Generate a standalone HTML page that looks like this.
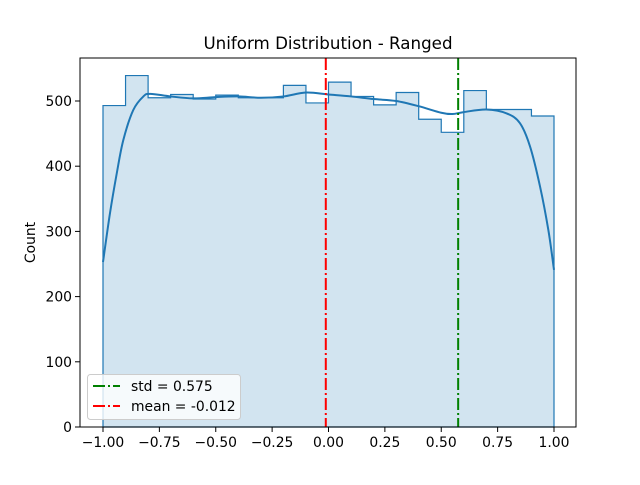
<!DOCTYPE html>
<html><head><meta charset="utf-8"><style>
body{margin:0;background:#fff;}
svg text{font-family:"DejaVu Sans","Liberation Sans",sans-serif;}
</style></head><body>
<svg id="chart" width="640" height="480" xmlns="http://www.w3.org/2000/svg">
<rect width="640" height="480" fill="#fff"/>
<g id="plot"></g>
</svg>
<script>
const binCounts=[493,539,505,510,503,509,505,505,524,497,529,507,494,513,472,452,516,487,487,477];
const binStart=-1.0, binWidth=0.1;
const kdeX=[-1.0,-0.969,-0.939,-0.91,-0.866,-0.821,-0.79,-0.7,-0.6,-0.5,-0.4,-0.3,-0.2,-0.1,0,0.1,0.2,0.3,0.4,0.5,0.55,0.6,0.7,0.79,0.849,0.894,0.938,0.975,1.0];
const kdeY=[253,328,389,440,486,507,511,507,504,506,507,505,507,513,510,507,503,500,492,482,480,483,487,481,466,430,369,302,241];
const stdVal=0.575, meanVal=-0.012;
const xTicks=[-1.0,-0.75,-0.5,-0.25,0,0.25,0.5,0.75,1.0];
const xTickLabels=["−1.00","−0.75","−0.50","−0.25","0.00","0.25","0.50","0.75","1.00"];
const yTicks=[0,100,200,300,400,500];

const L=80,R=576,T=58,B=427;
const X=v=>328.5+v*225.5;
const Y=v=>B-v*0.652;
const NS="http://www.w3.org/2000/svg";
const g=document.getElementById('plot');
function mk(tag,attrs,parent){const e=document.createElementNS(NS,tag);for(const k in attrs)e.setAttribute(k,attrs[k]);(parent||g).appendChild(e);return e;}

let d=`M${X(binStart)},${Y(0)}`;
binCounts.forEach((c,i)=>{const x0=X(binStart+i*binWidth),x1=X(binStart+(i+1)*binWidth);d+=` L${x0},${Y(c)} L${x1},${Y(c)}`;});
d+=` L${X(binStart+binCounts.length*binWidth)},${Y(0)} Z`;
const hist=mk('path',{d:d,fill:'#1f77b4','fill-opacity':0.2,stroke:'#1f77b4','stroke-width':1.2});



// kde, smoothed with Catmull-Rom
const P=kdeX.map((x,i)=>[X(x),Y(kdeY[i])]);
let kd=`M${P[0][0]},${P[0][1]}`;
for(let i=0;i<P.length-1;i++){
  const p0=P[Math.max(i-1,0)],p1=P[i],p2=P[i+1],p3=P[Math.min(i+2,P.length-1)];
  const c1=[p1[0]+(p2[0]-p0[0])/6,p1[1]+(p2[1]-p0[1])/6];
  const c2=[p2[0]-(p3[0]-p1[0])/6,p2[1]-(p3[1]-p1[1])/6];
  kd+=` C${c1[0]},${c1[1]} ${c2[0]},${c2[1]} ${p2[0]},${p2[1]}`;
}
const kde=mk('path',{d:kd,fill:'none',stroke:'#1f77b4','stroke-width':2});



const sl=mk('line',{x1:X(stdVal),x2:X(stdVal),y1:T,y2:B,stroke:'green','stroke-width':2,'stroke-dasharray':'12,3,2,3'});


const ml=mk('line',{x1:X(meanVal),x2:X(meanVal),y1:T,y2:B,stroke:'red','stroke-width':2,'stroke-dasharray':'12,3,2,3'});



const fr=mk('rect',{x:L,y:T,width:R-L,height:B-T,fill:'none',stroke:'#000','stroke-width':1});



xTicks.forEach((v,i)=>{
  const t=mk('line',{x1:X(v),x2:X(v),y1:B,y2:B+5,stroke:'#000'});
  
  
  const tx=mk('text',{x:X(v),y:B+20,'font-size':13.9,'text-anchor':'middle'});
  tx.textContent=xTickLabels[i];
  
  
});
yTicks.forEach(v=>{
  const t=mk('line',{x1:L-5,x2:L,y1:Y(v),y2:Y(v),stroke:'#000'});
  
  
  const tx=mk('text',{x:L-8,y:Y(v)+5,'font-size':13.9,'text-anchor':'end'});
  tx.textContent=String(v);
  
  
});
const yt=mk('text',{x:0,y:0,'font-size':13.9,'text-anchor':'middle',transform:`translate(35,${(T+B)/2}) rotate(-90)`});
yt.textContent='Count';


const tt=mk('text',{x:(L+R)/2,y:T-9,'font-size':16.7,'text-anchor':'middle'});
tt.textContent='Uniform Distribution - Ranged';



const lg=mk('g',{});


mk('rect',{x:87.5,y:374.5,width:153,height:45,rx:3,fill:'#fff','fill-opacity':0.8,stroke:'#ccc'},lg);
const items=[['green','std = '+stdVal.toFixed(3)],['red','mean = '+meanVal.toFixed(3)]];
items.forEach((it,i)=>{
  const y=386+i*20;
  mk('line',{x1:93,x2:120,y1:y,y2:y,stroke:it[0],'stroke-width':2,'stroke-dasharray':'12,3,2,3'},lg);
  const tx=mk('text',{x:131,y:y+5,'font-size':13.9},lg);
  tx.textContent=it[1];
  
  
});
</script>
</body></html>
